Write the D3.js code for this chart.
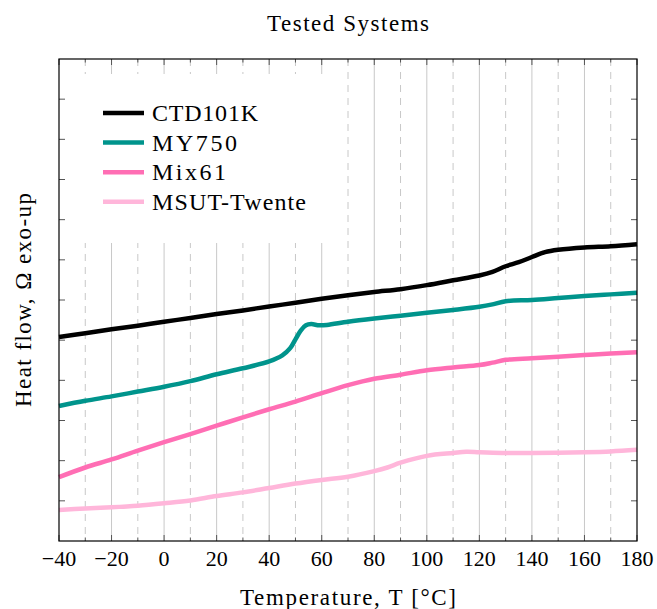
<!DOCTYPE html>
<html>
<head>
<meta charset="utf-8">
<script src="https://cdn.jsdelivr.net/npm/d3@7"></script>
<style>
  body { margin: 0; background: #fff; }
  svg { display: block; }
  text { font-family: "Liberation Serif", "Times New Roman", serif; fill: #000; }
</style>
</head>
<body>
<svg id="chart" width="657" height="609"></svg>
<script>
// ---------- data ----------
const title = "Tested Systems";
const xLabel = "Temperature, T [\u00B0C]";
const yLabel = "Heat flow, \u03A9 exo-up";
const xTicks = [-40, -20, 0, 20, 40, 60, 80, 100, 120, 140, 160, 180];
const xMinorTicks = [-30, -10, 10, 30, 50, 70, 90, 110, 130, 150, 170];
const yTicks = [1, 2, 3, 4, 5, 6, 7, 8, 9, 10, 11];
const seriesNames = ["CTD101K", "MY750", "Mix61", "MSUT-Twente"];
const seriesColors = ["#000000", "#00948c", "#ff6eb4", "#ffb6da"];

const ctdT = [-40, -30, -20, -10, 0, 10, 20, 30, 40, 50, 60, 70, 80, 90, 100, 110, 120, 125, 130, 135, 140, 145, 150, 160, 170, 180];
const ctdV = [5.08, 5.17, 5.27, 5.36, 5.46, 5.55, 5.65, 5.74, 5.84, 5.93, 6.03, 6.12, 6.20, 6.27, 6.37, 6.49, 6.61, 6.70, 6.84, 6.94, 7.07, 7.19, 7.25, 7.31, 7.34, 7.39];

const myT = [-40, -30, -20, -10, 0, 10, 20, 30, 40, 45, 48, 50, 52, 54, 56, 59, 62, 70, 80, 90, 100, 110, 120, 125, 130, 140, 150, 160, 170, 180];
const myV = [3.36, 3.49, 3.60, 3.72, 3.84, 3.98, 4.15, 4.30, 4.47, 4.62, 4.80, 5.02, 5.24, 5.37, 5.40, 5.37, 5.38, 5.46, 5.54, 5.61, 5.68, 5.75, 5.83, 5.89, 5.97, 6.00, 6.05, 6.10, 6.14, 6.18];

const mixT = [-40, -30, -20, -10, 0, 10, 20, 30, 40, 50, 60, 70, 80, 90, 100, 110, 120, 125, 130, 140, 150, 160, 170, 180];
const mixV = [1.59, 1.83, 2.03, 2.25, 2.46, 2.66, 2.87, 3.08, 3.28, 3.47, 3.68, 3.88, 4.04, 4.14, 4.25, 4.32, 4.38, 4.44, 4.51, 4.55, 4.59, 4.63, 4.67, 4.70];

const msutT = [-40, -30, -20, -10, 0, 10, 20, 30, 40, 50, 60, 70, 80, 85, 90, 100, 110, 115, 120, 130, 140, 150, 160, 170, 180];
const msutV = [0.77, 0.81, 0.84, 0.88, 0.94, 1.01, 1.12, 1.21, 1.32, 1.43, 1.52, 1.60, 1.74, 1.83, 1.95, 2.12, 2.19, 2.22, 2.21, 2.19, 2.19, 2.20, 2.21, 2.23, 2.27];

const seriesT = [ctdT, myT, mixT, msutT];
const seriesV = [ctdV, myV, mixV, msutV];

// ---------- layout ----------
const svg = d3.select("#chart");
const L = 59, R = 637, T = 59, B = 541;
const x = d3.scaleLinear().domain([-40, 180]).range([L, R]);
const y = d3.scaleLinear().domain([0, 12]).range([B, T]);

// grid
const grid = svg.append("g");
grid.selectAll("line.major").data(xTicks.slice(1, -1)).join("line")
  .attr("x1", d => x(d)).attr("x2", d => x(d))
  .attr("y1", T).attr("y2", B)
  .attr("stroke", "#c8c8c8").attr("stroke-width", 1);
grid.selectAll("line.minor").data(xMinorTicks).join("line")
  .attr("x1", d => x(d)).attr("x2", d => x(d))
  .attr("y1", T).attr("y2", B)
  .attr("stroke", "#c8c8c8").attr("stroke-width", 1)
  .attr("stroke-dasharray", "7,6");

// series
const line = d3.line().x(d => x(d[0])).y(d => y(d[1])).curve(d3.curveCatmullRom.alpha(0.5));
const plotG = svg.append("g");
for (let i = seriesNames.length - 1; i >= 0; i--) {
  const pts = seriesT[i].map((t, k) => [t, seriesV[i][k]]);
  plotG.append("path").datum(pts)
    .attr("d", line)
    .attr("fill", "none")
    .attr("stroke", seriesColors[i])
    .attr("stroke-width", 4.5)
    .attr("stroke-linejoin", "round")
    .attr("stroke-linecap", "butt");
}

// legend box (white, covers grid)
const leg = svg.append("g");
leg.append("rect").attr("x", 67).attr("y", 74).attr("width", 268).attr("height", 169).attr("fill", "#fff");
seriesNames.forEach((name, i) => {
  const cy = 113 + i * 29.6;
  leg.append("line").attr("x1", 103).attr("x2", 144).attr("y1", cy).attr("y2", cy)
    .attr("stroke", seriesColors[i]).attr("stroke-width", 4.5);
  leg.append("text").attr("x", 152).attr("y", cy + 8)
    .attr("font-size", 24)
    .attr("textLength", [106, 85, 74, 154][i]).attr("lengthAdjust", "spacing")
    .text(name);
});

// axes ticks
const ticks = svg.append("g").attr("stroke", "#555").attr("stroke-width", 1);
yTicks.forEach(v => {
  ticks.append("line").attr("x1", L).attr("x2", L + 6).attr("y1", y(v)).attr("y2", y(v));
  ticks.append("line").attr("x1", R - 6).attr("x2", R).attr("y1", y(v)).attr("y2", y(v));
});
xTicks.forEach(v => {
  ticks.append("line").attr("x1", x(v)).attr("x2", x(v)).attr("y1", B).attr("y2", B - 6);
  ticks.append("line").attr("x1", x(v)).attr("x2", x(v)).attr("y1", T).attr("y2", T + 6);
});
xMinorTicks.forEach(v => {
  ticks.append("line").attr("x1", x(v)).attr("x2", x(v)).attr("y1", B).attr("y2", B - 3.5);
  ticks.append("line").attr("x1", x(v)).attr("x2", x(v)).attr("y1", T).attr("y2", T + 3.5);
});

// frame
svg.append("rect").attr("x", L).attr("y", T).attr("width", R - L).attr("height", B - T)
  .attr("fill", "none").attr("stroke", "#000").attr("stroke-width", 1.2);

// tick labels
svg.append("g").selectAll("text").data(xTicks).join("text")
  .attr("x", d => x(d)).attr("y", 566)
  .attr("text-anchor", "middle").attr("font-size", 22)
  .text(d => d < 0 ? "\u2212" + Math.abs(d) : d);

// title & axis labels
svg.append("text").attr("x", (L + R) / 2).attr("y", 31).attr("text-anchor", "middle")
  .attr("font-size", 23).attr("textLength", 162).attr("lengthAdjust", "spacing").text(title);
svg.append("text").attr("x", (L + R) / 2).attr("y", 605).attr("text-anchor", "middle")
  .attr("font-size", 23).attr("textLength", 216).attr("lengthAdjust", "spacing").text(xLabel);
svg.append("text").attr("transform", `translate(31,${(T + B) / 2}) rotate(-90)`)
  .attr("text-anchor", "middle").attr("font-size", 23)
  .attr("textLength", 214).attr("lengthAdjust", "spacing").text(yLabel);
</script>
</body>
</html>
